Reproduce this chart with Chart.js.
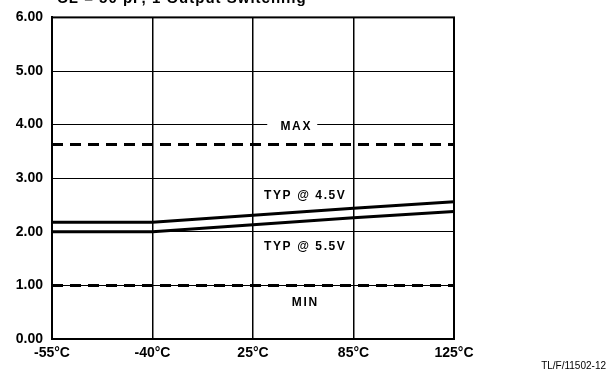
<!DOCTYPE html>
<html>
<head>
<meta charset="utf-8">
<script src="https://cdn.jsdelivr.net/npm/chart.js@4/dist/chart.umd.min.js"></script>
<style>
  html, body { margin: 0; padding: 0; background: #fff; }
  #wrap { width: 610px; height: 371px; }
</style>
</head>
<body>
<div id="wrap"><canvas id="grafico" width="610" height="371"></canvas></div>
<script>
const temperaturas = ['-55°C', '-40°C', '25°C', '85°C', '125°C']
const typ45 = [2.18, 2.18, 2.31, 2.44, 2.56]
const typ55 = [2.00, 2.00, 2.13, 2.26, 2.38]
const maximo = [3.63, 3.63, 3.63, 3.63, 3.63]
const minimo = [1.00, 1.00, 1.00, 1.00, 1.00]
const yTicks = [0, 1, 2, 3, 4, 5, 6]

const fonte = '"Liberation Sans", Arial, sans-serif'

// rótulos dentro do gráfico, borda e textos fora da área
const extras = {
    id: 'extras',
    beforeDraw(chart) {
        const c = chart.ctx
        c.save()
        c.fillStyle = '#000'
        c.font = 'bold 15px ' + fonte
        c.letterSpacing = '1px'
        c.textBaseline = 'alphabetic'
        c.fillText('CL = 50 pF, 1 Output Switching', 57, 3)
        c.letterSpacing = '0px'
        c.font = '10px ' + fonte
        c.textAlign = 'right'
        c.fillText('TL/F/11502-12', 606, 369)
        c.restore()
    },
    afterDraw(chart) {
        const c = chart.ctx
        const a = chart.chartArea
        const x = chart.scales.x
        const y = chart.scales.y
        c.save()
        c.strokeStyle = '#000'
        c.lineWidth = 2
        c.strokeRect(a.left, a.top, a.right - a.left, a.bottom - a.top)

        const cx = (x.getPixelForValue(2) + x.getPixelForValue(3)) / 2
        c.font = 'bold 12px ' + fonte
        c.letterSpacing = '1.6px'
        c.textAlign = 'center'
        c.textBaseline = 'middle'

        // MAX interrompe a linha de 4.00
        c.fillStyle = '#fff'
        c.fillRect(cx - 36, y.getPixelForValue(4) - 3, 50, 6)
        c.fillStyle = '#000'
        c.fillText('MAX', cx - 7, y.getPixelForValue(4) + 2)
        c.fillText('TYP @ 4.5V', cx + 2, y.getPixelForValue(2.67))
        c.fillText('TYP @ 5.5V', cx + 2, y.getPixelForValue(1.73))
        c.fillText('MIN', cx + 2, y.getPixelForValue(0.67))
        c.restore()
    }
}

new Chart(document.getElementById('grafico').getContext('2d'), {
    type: 'line',
    data: {
        labels: temperaturas,
        datasets: [
            { label: 'TYP @ 4.5V', data: typ45, borderColor: '#000', borderWidth: 3, pointRadius: 0, tension: 0 },
            { label: 'TYP @ 5.5V', data: typ55, borderColor: '#000', borderWidth: 3, pointRadius: 0, tension: 0 },
            { label: 'MAX', data: maximo, borderColor: '#000', borderWidth: 3, borderDash: [11, 7], pointRadius: 0 },
            { label: 'MIN', data: minimo, borderColor: '#000', borderWidth: 3, borderDash: [11, 7], pointRadius: 0 }
        ]
    },
    options: {
        responsive: false,
        animation: false,
        layout: { padding: { top: 17, right: 156, left: 0, bottom: 0 } },
        plugins: { legend: { display: false }, tooltip: { enabled: false } },
        scales: {
            x: {
                offset: false,
                grid: { color: '#000', lineWidth: 1.5, drawTicks: false },
                border: { color: '#000', width: 2 },
                ticks: { color: '#000', padding: 6, maxRotation: 0, font: { family: fonte, weight: 'bold', size: 14 } },
                afterFit: s => { s.height = 32 }
            },
            y: {
                min: 0,
                max: 6,
                afterBuildTicks: s => { s.ticks = yTicks.map(v => ({ value: v })) },
                grid: { color: '#000', lineWidth: 1, drawTicks: false },
                border: { color: '#000', width: 2 },
                ticks: { color: '#000', padding: 9, callback: v => Number(v).toFixed(2), font: { family: fonte, weight: 'bold', size: 14 } },
                afterFit: s => { s.width = 52 }
            }
        }
    },
    plugins: [extras]
})
</script>
</body>
</html>
